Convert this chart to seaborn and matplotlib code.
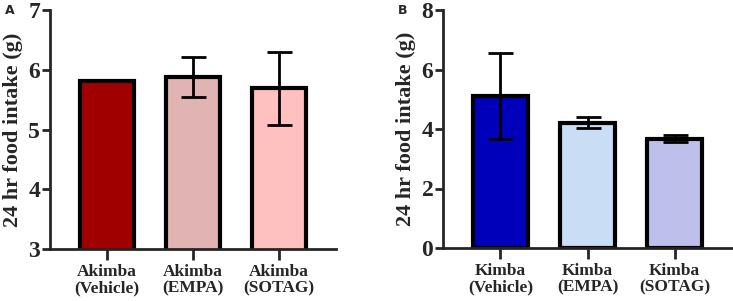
import matplotlib
matplotlib.use("Agg")
import matplotlib.pyplot as plt
import seaborn as sns
import pandas as pd

# Panel A - Akimba
labels_a = ["Akimba\n(Vehicle)", "Akimba\n(EMPA)", "Akimba\n(SOTAG)"]
means_a = [5.81, 5.88, 5.69]
sd_a = [0.0, 0.33, 0.61]
colors_a = ["#A00000", "#E1B3B3", "#FFC0C0"]

# Panel B - Kimba
labels_b = ["Kimba\n(Vehicle)", "Kimba\n(EMPA)", "Kimba\n(SOTAG)"]
means_b = [5.12, 4.21, 3.67]
sd_b = [1.45, 0.18, 0.12]
colors_b = ["#0000BB", "#C9DDF5", "#BFBFEC"]

sns.set_style("ticks")
plt.rcParams["font.family"] = ["Liberation Serif", "DejaVu Serif"]
plt.rcParams["font.weight"] = "bold"

fig = plt.figure(figsize=(7.33, 3.01), dpi=100)
ax_a = fig.add_axes([50 / 733, 52 / 301, 286 / 733, 239 / 301])
ax_b = fig.add_axes([443 / 733, 53 / 301, 289 / 733, 238 / 301])


def draw(ax, labels, means, sd, colors, ylim, yticks):
    df = pd.DataFrame({"group": labels, "mean": means})
    sns.barplot(data=df, x="group", y="mean", hue="group", palette=colors,
                saturation=1, width=0.63, edgecolor="black", linewidth=3,
                legend=False, ax=ax)
    ax.errorbar(range(len(means)), means, yerr=sd, fmt="none", ecolor="black",
                elinewidth=2, capsize=9, capthick=2, zorder=5)
    ax.set_ylim(*ylim)
    ax.set_xlim(-0.66, 2.66)
    ax.set_yticks(yticks)
    ax.set_xlabel("")
    ax.set_ylabel("24 hr food intake (g)", fontsize=16, fontweight="bold", labelpad=4)
    ax.tick_params(axis="y", labelsize=17, width=2, length=6, pad=1)
    ax.tick_params(axis="x", labelsize=12.5, width=2, length=8, pad=3)
    for lab in ax.get_xticklabels():
        lab.set_fontweight("bold")
        lab.set_linespacing(1.05)
    for lab in ax.get_yticklabels():
        lab.set_fontweight("bold")
    sns.despine(ax=ax)
    for s in ["left", "bottom"]:
        ax.spines[s].set_linewidth(2)


draw(ax_a, labels_a, means_a, sd_a, colors_a, (3, 7), [3, 4, 5, 6, 7])
draw(ax_b, labels_b, means_b, sd_b, colors_b, (0, 8), [0, 2, 4, 6, 8])

fig.text(10 / 733, 1 - 11 / 301, "A", fontsize=9, fontweight="bold",
         family="DejaVu Sans", va="center", ha="center")
fig.text(403 / 733, 1 - 11 / 301, "B", fontsize=9, fontweight="bold",
         family="DejaVu Sans", va="center", ha="center")

fig.savefig("out.png", dpi=100)
